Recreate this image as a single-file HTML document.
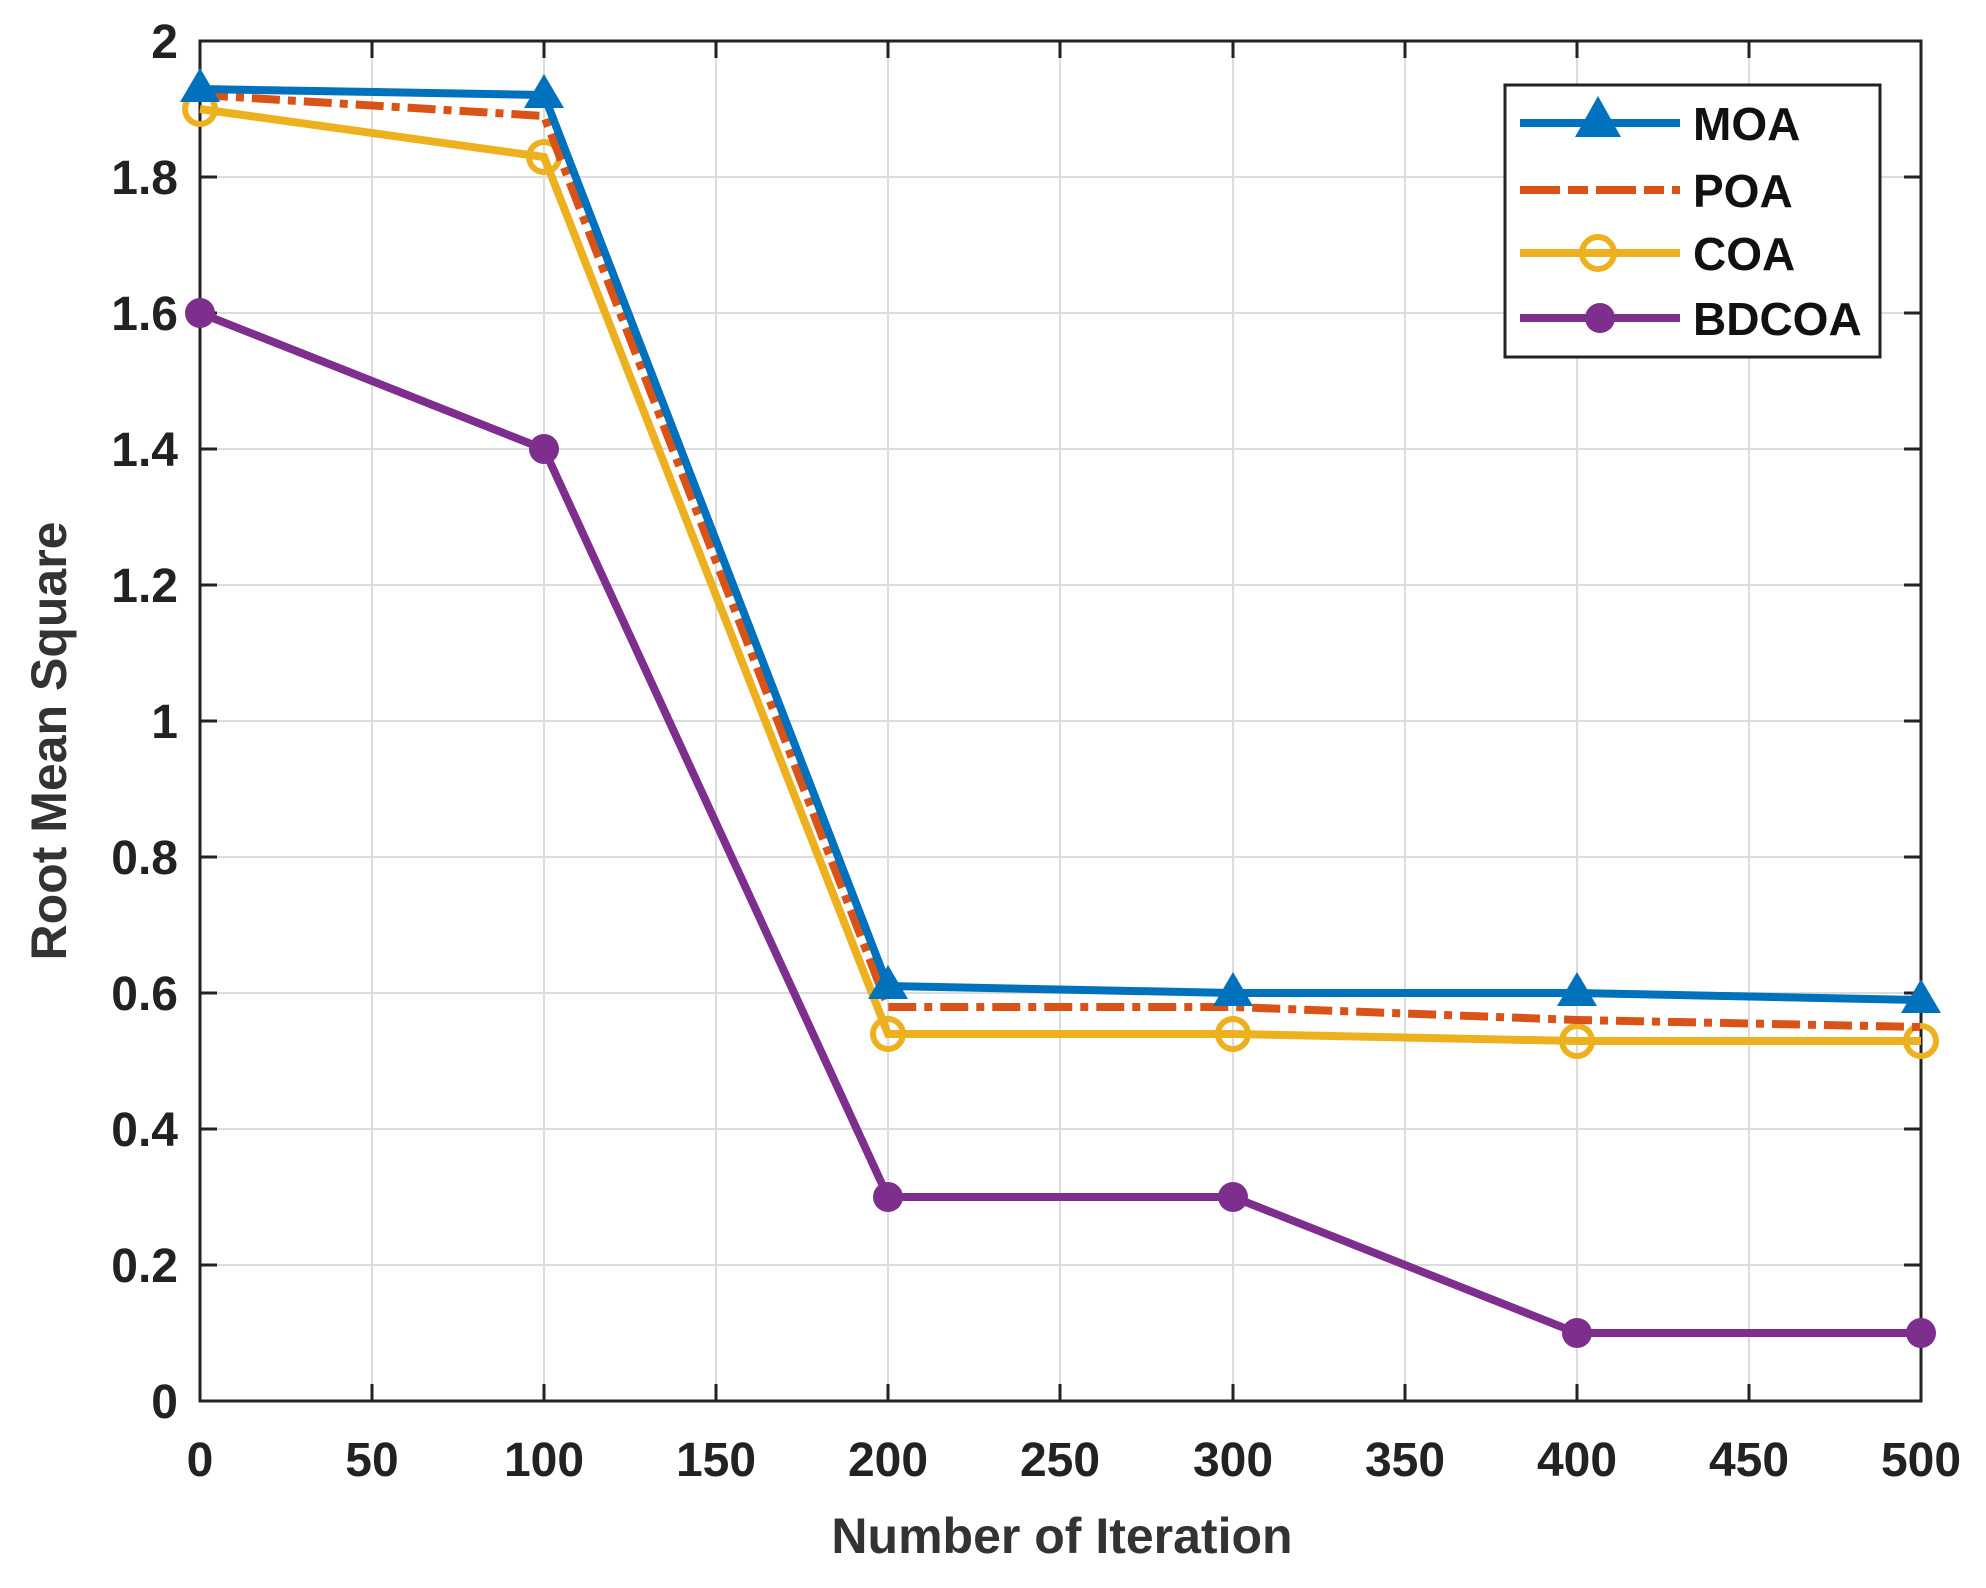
<!DOCTYPE html>
<html><head><meta charset="utf-8"><style>html,body{margin:0;padding:0;background:#fff}svg{display:block}</style></head>
<body>
<svg width="1986" height="1588" viewBox="0 0 1986 1588" xmlns="http://www.w3.org/2000/svg" font-family="Liberation Sans, Arial, sans-serif" font-weight="bold">
<rect width="1986" height="1588" fill="#fff"/>
<g stroke="#dcdcdc" stroke-width="2">
<line x1="372" y1="41" x2="372" y2="1401"/><line x1="544" y1="41" x2="544" y2="1401"/><line x1="716" y1="41" x2="716" y2="1401"/><line x1="888" y1="41" x2="888" y2="1401"/><line x1="1060" y1="41" x2="1060" y2="1401"/><line x1="1233" y1="41" x2="1233" y2="1401"/><line x1="1405" y1="41" x2="1405" y2="1401"/><line x1="1577" y1="41" x2="1577" y2="1401"/><line x1="1749" y1="41" x2="1749" y2="1401"/>
<line x1="200" y1="177" x2="1921" y2="177"/><line x1="200" y1="313" x2="1921" y2="313"/><line x1="200" y1="449" x2="1921" y2="449"/><line x1="200" y1="585" x2="1921" y2="585"/><line x1="200" y1="721" x2="1921" y2="721"/><line x1="200" y1="857" x2="1921" y2="857"/><line x1="200" y1="993" x2="1921" y2="993"/><line x1="200" y1="1129" x2="1921" y2="1129"/><line x1="200" y1="1265" x2="1921" y2="1265"/>
</g>
<g stroke="#222" stroke-width="3">
<line x1="372" y1="1401" x2="372" y2="1384"/><line x1="544" y1="1401" x2="544" y2="1384"/><line x1="716" y1="1401" x2="716" y2="1384"/><line x1="888" y1="1401" x2="888" y2="1384"/><line x1="1060" y1="1401" x2="1060" y2="1384"/><line x1="1233" y1="1401" x2="1233" y2="1384"/><line x1="1405" y1="1401" x2="1405" y2="1384"/><line x1="1577" y1="1401" x2="1577" y2="1384"/><line x1="1749" y1="1401" x2="1749" y2="1384"/>
<line x1="372" y1="41" x2="372" y2="58"/><line x1="544" y1="41" x2="544" y2="58"/><line x1="716" y1="41" x2="716" y2="58"/><line x1="888" y1="41" x2="888" y2="58"/><line x1="1060" y1="41" x2="1060" y2="58"/><line x1="1233" y1="41" x2="1233" y2="58"/><line x1="1405" y1="41" x2="1405" y2="58"/><line x1="1577" y1="41" x2="1577" y2="58"/><line x1="1749" y1="41" x2="1749" y2="58"/>
<line x1="200" y1="177" x2="217" y2="177"/><line x1="200" y1="313" x2="217" y2="313"/><line x1="200" y1="449" x2="217" y2="449"/><line x1="200" y1="585" x2="217" y2="585"/><line x1="200" y1="721" x2="217" y2="721"/><line x1="200" y1="857" x2="217" y2="857"/><line x1="200" y1="993" x2="217" y2="993"/><line x1="200" y1="1129" x2="217" y2="1129"/><line x1="200" y1="1265" x2="217" y2="1265"/>
<line x1="1921" y1="177" x2="1904" y2="177"/><line x1="1921" y1="313" x2="1904" y2="313"/><line x1="1921" y1="449" x2="1904" y2="449"/><line x1="1921" y1="585" x2="1904" y2="585"/><line x1="1921" y1="721" x2="1904" y2="721"/><line x1="1921" y1="857" x2="1904" y2="857"/><line x1="1921" y1="993" x2="1904" y2="993"/><line x1="1921" y1="1129" x2="1904" y2="1129"/><line x1="1921" y1="1265" x2="1904" y2="1265"/>
</g>
<rect x="200" y="41" width="1721" height="1360" fill="none" stroke="#222" stroke-width="3"/>
<g fill="#222" font-size="48" text-anchor="end">
<text x="178" y="58">2</text><text x="178" y="194">1.8</text><text x="178" y="330">1.6</text><text x="178" y="466">1.4</text><text x="178" y="602">1.2</text><text x="178" y="738">1</text><text x="178" y="874">0.8</text><text x="178" y="1010">0.6</text><text x="178" y="1146">0.4</text><text x="178" y="1282">0.2</text><text x="178" y="1418">0</text>
</g>
<g fill="#222" font-size="48" text-anchor="middle">
<text x="200" y="1476">0</text><text x="372" y="1476">50</text><text x="544" y="1476">100</text><text x="716" y="1476">150</text><text x="888" y="1476">200</text><text x="1060" y="1476">250</text><text x="1233" y="1476">300</text><text x="1405" y="1476">350</text><text x="1577" y="1476">400</text><text x="1749" y="1476">450</text><text x="1921" y="1476">500</text>
</g>
<text x="1062" y="1553" font-size="50" text-anchor="middle" fill="#333">Number of Iteration</text>
<text transform="translate(66,741) rotate(-90)" font-size="50" text-anchor="middle" fill="#333">Root Mean Square</text>
<polyline fill="none" stroke="#7E2F8E" stroke-width="8" points="200,313 544,449 888,1197 1233,1197 1577,1333 1921,1333"/>
<g fill="#7E2F8E"><circle cx="200" cy="313" r="15"/><circle cx="544" cy="449" r="15"/><circle cx="888" cy="1197" r="15"/><circle cx="1233" cy="1197" r="15"/><circle cx="1577" cy="1333" r="15"/><circle cx="1921" cy="1333" r="15"/></g>
<polyline fill="none" stroke="#EDB120" stroke-width="8" points="200,109 544,157 888,1034 1233,1034 1577,1041 1921,1041"/>
<g fill="none" stroke="#EDB120" stroke-width="6"><circle cx="200" cy="109" r="15"/><circle cx="544" cy="157" r="15"/><circle cx="888" cy="1034" r="15"/><circle cx="1233" cy="1034" r="15"/><circle cx="1577" cy="1041" r="15"/><circle cx="1921" cy="1041" r="15"/></g>
<polyline fill="none" stroke="#D95319" stroke-width="8" stroke-dasharray="28,8,8,8" points="200,95 544,116 888,1007 1233,1007 1577,1020 1921,1027"/>
<polyline fill="none" stroke="#0072BD" stroke-width="8" points="200,89 544,95 888,986 1233,993 1577,993 1921,1000"/>
<g fill="#0072BD"><polygon points="200,68 180,102 220,102"/><polygon points="544,74 524,108 564,108"/><polygon points="888,965 868,999 908,999"/><polygon points="1233,972 1213,1006 1253,1006"/><polygon points="1577,972 1557,1006 1597,1006"/><polygon points="1921,979 1901,1013 1941,1013"/></g>
<rect x="1505" y="85" width="375" height="272" fill="#fff" stroke="#222" stroke-width="3"/>
<line x1="1520" y1="123" x2="1680" y2="123" stroke="#0072BD" stroke-width="8"/><polygon points="1598,96 1575,137 1621,137" fill="#0072BD"/>
<line x1="1520" y1="190" x2="1680" y2="190" stroke="#D95319" stroke-width="8" stroke-dasharray="40,8,20,8"/>
<line x1="1520" y1="253" x2="1680" y2="253" stroke="#EDB120" stroke-width="8"/><circle cx="1598" cy="253" r="16" fill="none" stroke="#EDB120" stroke-width="6"/>
<line x1="1520" y1="318" x2="1680" y2="318" stroke="#7E2F8E" stroke-width="8"/><circle cx="1600" cy="318" r="15" fill="#7E2F8E"/>
<g font-size="46" fill="#111"><text x="1693" y="140">MOA</text><text x="1693" y="207">POA</text><text x="1693" y="270">COA</text><text x="1693" y="335">BDCOA</text></g>
</svg>
</body></html>
